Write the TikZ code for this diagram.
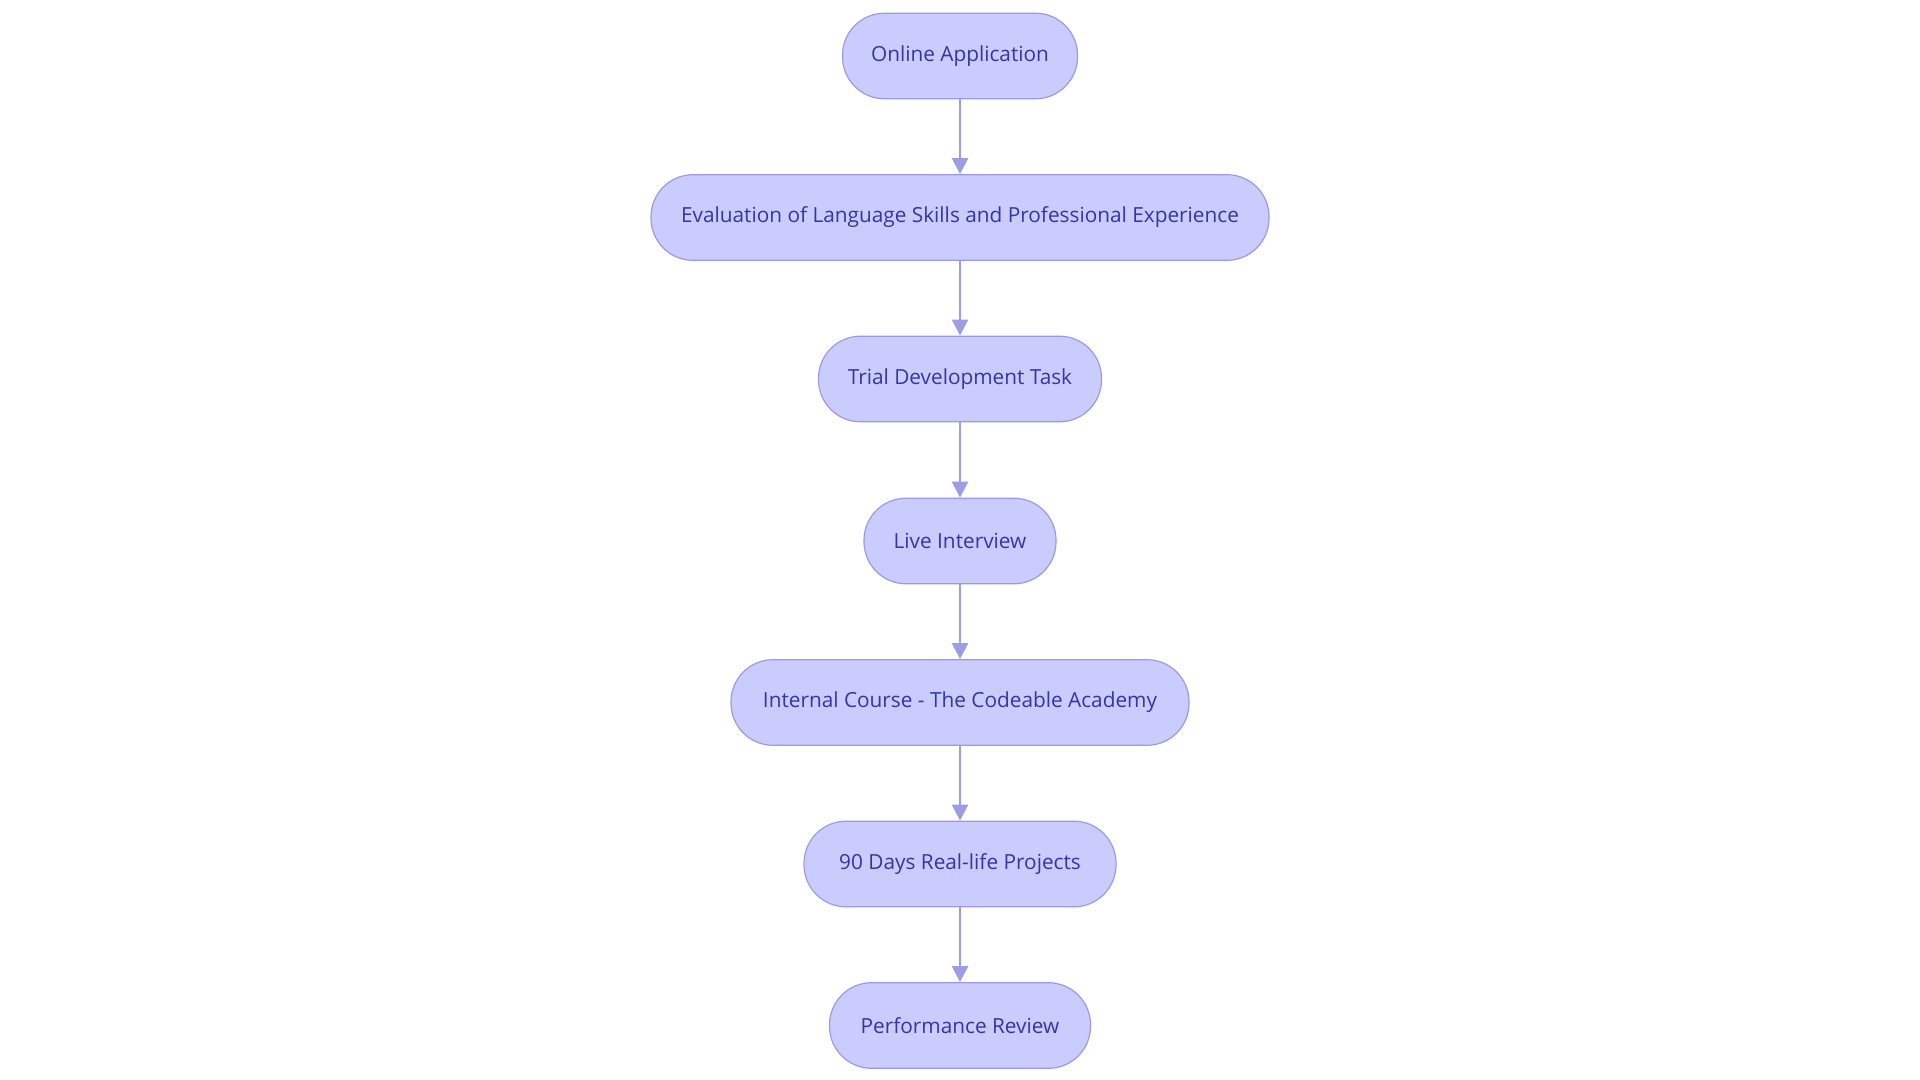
\documentclass[tikz,border=0pt]{standalone}
\usepackage{fontspec}
\setmainfont{Open Sans}
\usetikzlibrary{arrows.meta}
\definecolor{nfill}{HTML}{CBCCFE}
\definecolor{nline}{HTML}{9A9AEA}
\definecolor{ntext}{HTML}{3535A8}
\definecolor{aline}{HTML}{9C9DE6}
\begin{document}
\begin{tikzpicture}[x=0.5pt,y=-0.5pt,
  box/.style={draw=nline,fill=nfill,text=ntext,line width=0.6pt,rounded corners=21pt,minimum height=42.8pt,inner sep=0pt,font=\fontsize{10.4}{12}\selectfont},
  arr/.style={draw=aline,line width=1.3pt,-{Triangle[length=8pt,width=8pt]}}]
\useasboundingbox (0,0) rectangle (1920,1080);
\node[box,minimum width=117.5pt] (a) at (960,56) {Online Application};
\node[box,minimum width=309pt] (b) at (960,217.5) {Evaluation of Language Skills and Professional Experience};
\node[box,minimum width=141.5pt] (c) at (960,379) {Trial Development Task};
\node[box,minimum width=96pt] (d) at (960,541) {Live Interview};
\node[box,minimum width=229pt] (e) at (960,702.5) {Internal Course - The Codeable Academy};
\node[box,minimum width=156pt] (f) at (960,864) {90 Days Real-life Projects};
\node[box,minimum width=130.5pt] (g) at (960,1025.5) {Performance Review};
\foreach \u/\v in {a/b,b/c,c/d,d/e,e/f,f/g} \draw[arr] (\u) -- (\v);
\end{tikzpicture}
\end{document}
